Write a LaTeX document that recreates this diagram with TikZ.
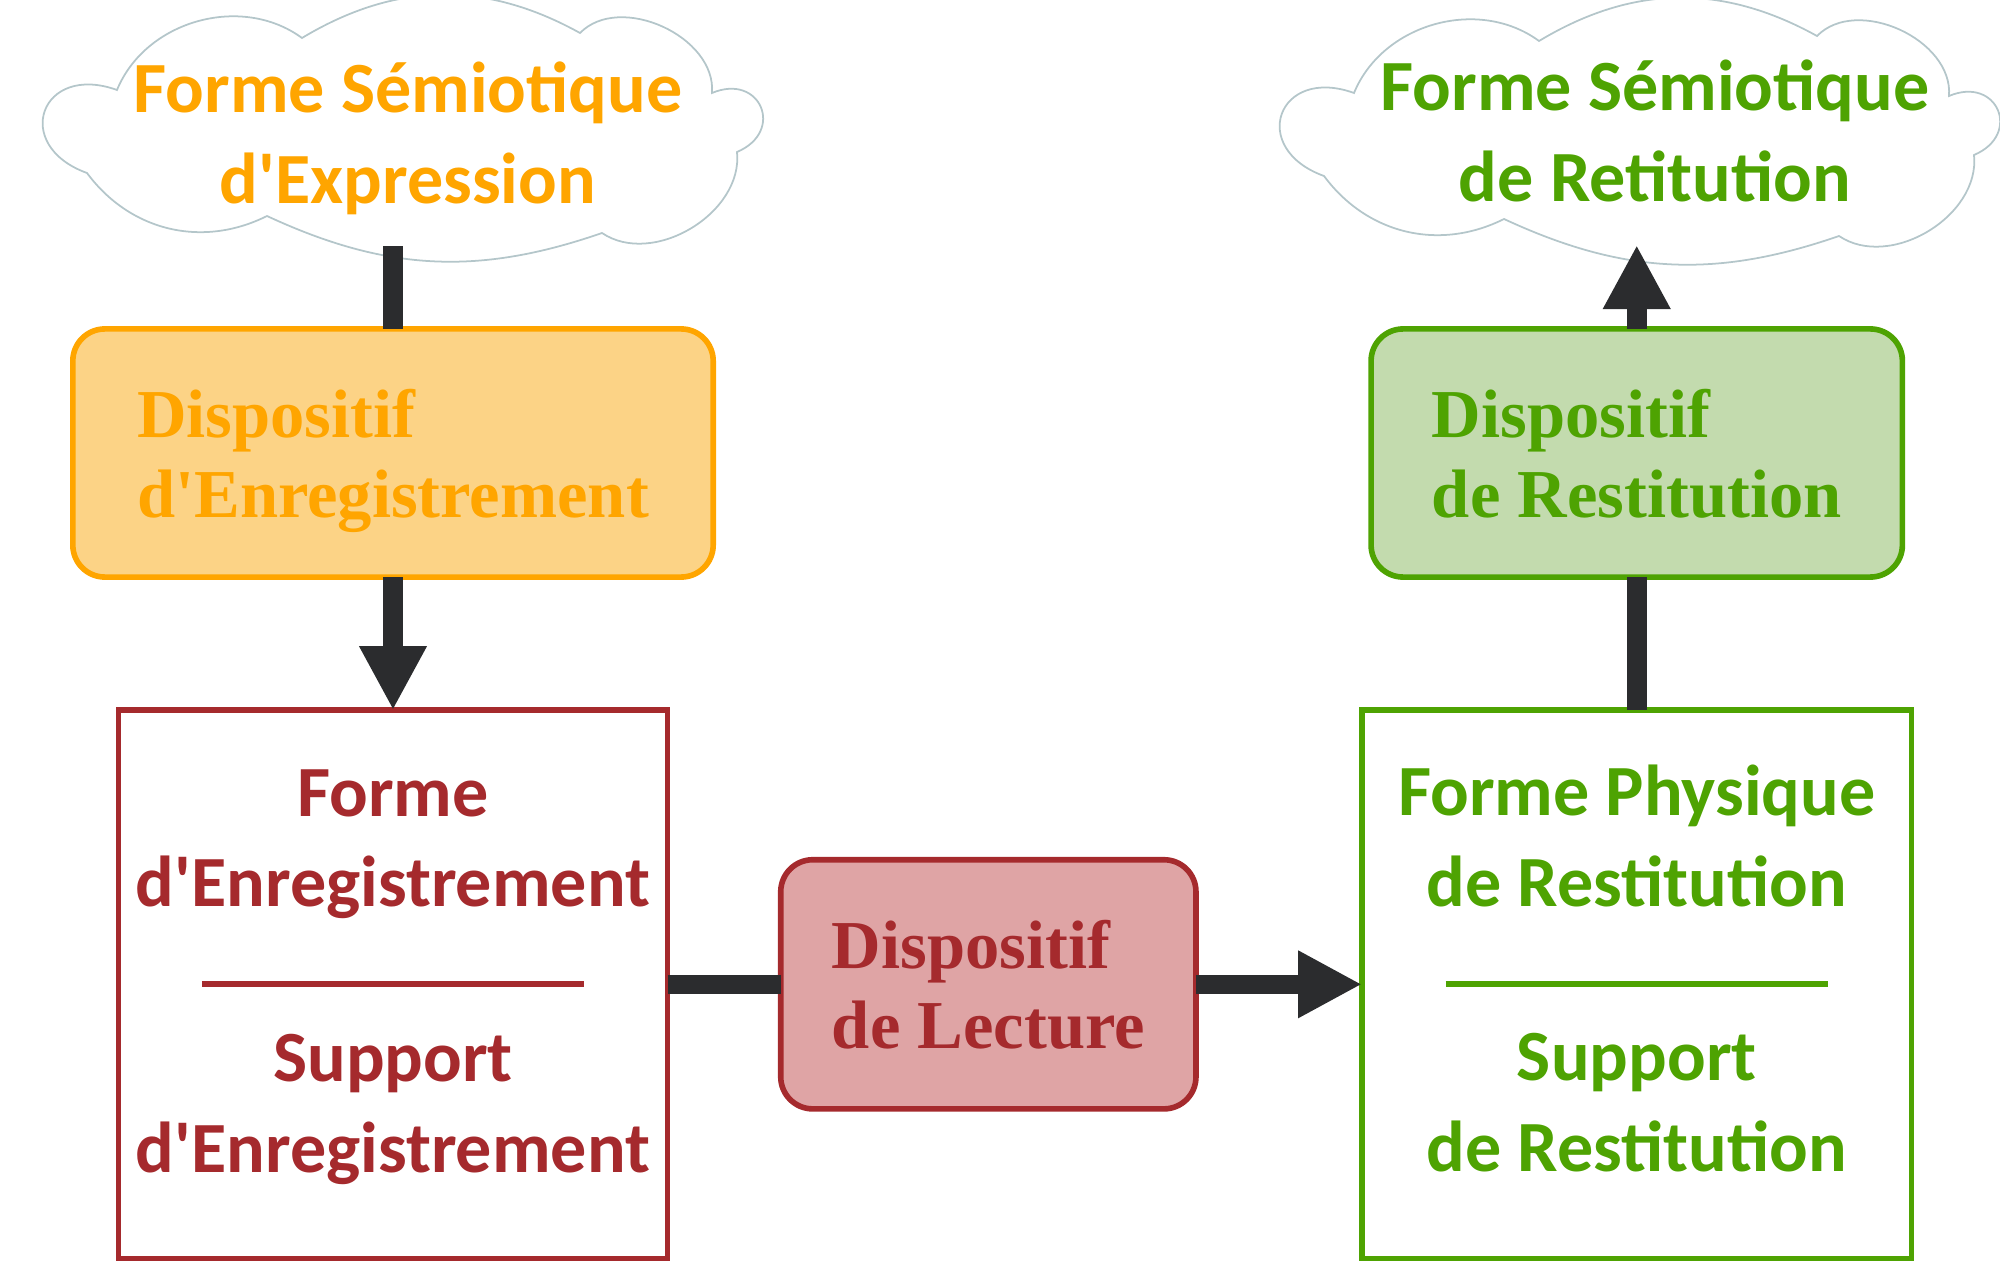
\documentclass[tikz,border=0pt]{standalone}
\usepackage{fontspec}
\usetikzlibrary{shapes,arrows.meta,positioning}
\newfontfamily\calib{Carlito}
\newfontfamily\camb{Liberation Serif}
\definecolor{orangeT}{HTML}{FFA500}
\definecolor{orangeF}{HTML}{FCD386}
\definecolor{greenT}{HTML}{4EA302}
\definecolor{greenF}{HTML}{C3DBAE}
\definecolor{redT}{HTML}{A52A2D}
\definecolor{redF}{HTML}{DFA4A5}
\definecolor{arrowdark}{HTML}{2B2C2E}
\definecolor{cloudline}{HTML}{B4C6CA}

% outline of a cloud, around (0,0)
\newcommand{\cloudoutline}{(-285,-38) to[bend left=52] (-100,-90)
    to[bend left=30] (178,-95) to[bend left=70] (310,-35)
    to[bend left=90,looseness=2.1] (335,24) to[bend left=65] (200,105)
    to[bend left=22] (-135,88) to[bend left=40] (-315,45)
    to[bend left=90,looseness=2.35] (-285,-38) -- cycle}

\begin{document}
\begin{tikzpicture}[x=0.01cm,y=-0.01cm,
    cloudline/.style={draw=cloudline, line width=0.5pt},
    semtext/.style={align=center, font=\calib\bfseries\fontsize{20.5}{25.8}\selectfont},
    devbox/.style={draw, rounded corners=0.32cm, line width=1.6pt, outer sep=0pt,
        minimum height=2.48cm, align=left, text depth=0pt,
        font=\camb\bfseries\fontsize{19.5}{22.7}\selectfont},
    formbox/.style={draw, rectangle, line width=1.6pt, outer sep=0pt,
        minimum width=5.49cm, minimum height=5.48cm},
    sepline/.style={line width=1.7pt},
    bar/.style={line width=0.196cm, draw=arrowdark},
    arrowbar/.style={bar, color=arrowdark, -{Triangle[width=0.63cm,length=0.64cm]}}
]
\useasboundingbox (0,0) rectangle (2000,1261);

% Semiotic form clouds
\draw[cloudline, shift={(402,128)}] \cloudoutline;
\node[semtext, orangeT] (semExpr) at (408,138) {Forme Sémiotique\\d'Expression};
\coordinate (cloud1bot) at (402,246);

\draw[cloudline, shift={(1639,131)}] \cloudoutline;
\node[semtext, greenT] (semRest) at (1655,131) {Forme Sémiotique\\de Retitution};
\coordinate (cloud2bot) at (1639,245);

% Recording device
\node[devbox,
    draw=orangeT,
    fill=orangeF,
    text=orangeT,
    minimum width=6.4cm] (block1) at (393,453) {Dispositif\\d'Enregistrement};

% Recording form / support
\node[formbox,
    draw=redT,
    below=1.33cm of block1] (block2) {};
\node[semtext, redT] (formEnr) at ([yshift=1.40cm]block2.center) {Forme\\d'Enregistrement};
\node[semtext, redT] (suppEnr) at ([yshift=-1.25cm]block2.center) {Support\\d'Enregistrement};
\draw[sepline, redT] ([xshift=-1.91cm]block2.center) -- ([xshift=1.91cm]block2.center);

% Reading device
\node[devbox,
    draw=redT,
    fill=redF,
    text=redT,
    minimum width=4.15cm,
    minimum height=2.49cm,
    right=1.13cm of block2] (block3) {Dispositif\\de Lecture};

% Restitution form / support
\node[formbox,
    draw=greenT,
    right=1.66cm of block3] (block4) {};
\node[semtext, greenT] (formRest) at ([yshift=1.48cm]block4.center) {Forme Physique\\de Restitution};
\node[semtext, greenT] (suppRest) at ([yshift=-1.18cm]block4.center) {Support\\de Restitution};
\draw[sepline, greenT] ([xshift=-1.91cm]block4.center) -- ([xshift=1.91cm]block4.center);

% Restitution device
\node[devbox,
    draw=greenT,
    fill=greenF,
    text=greenT,
    minimum width=5.31cm,
    above=1.33cm of block4] (block5) {Dispositif\\de Restitution};

% Arrows
\draw[bar] (block1) -- (block1 |- cloud1bot);
\draw[arrowbar] (block1) -- (block2);
\draw[bar] (block2) -- (block3);
\draw[arrowbar] (block3) -- (block4);
\draw[bar] (block4) -- (block5);
\draw[arrowbar] (block5) -- (block5 |- cloud2bot);

\end{tikzpicture}
\end{document}
